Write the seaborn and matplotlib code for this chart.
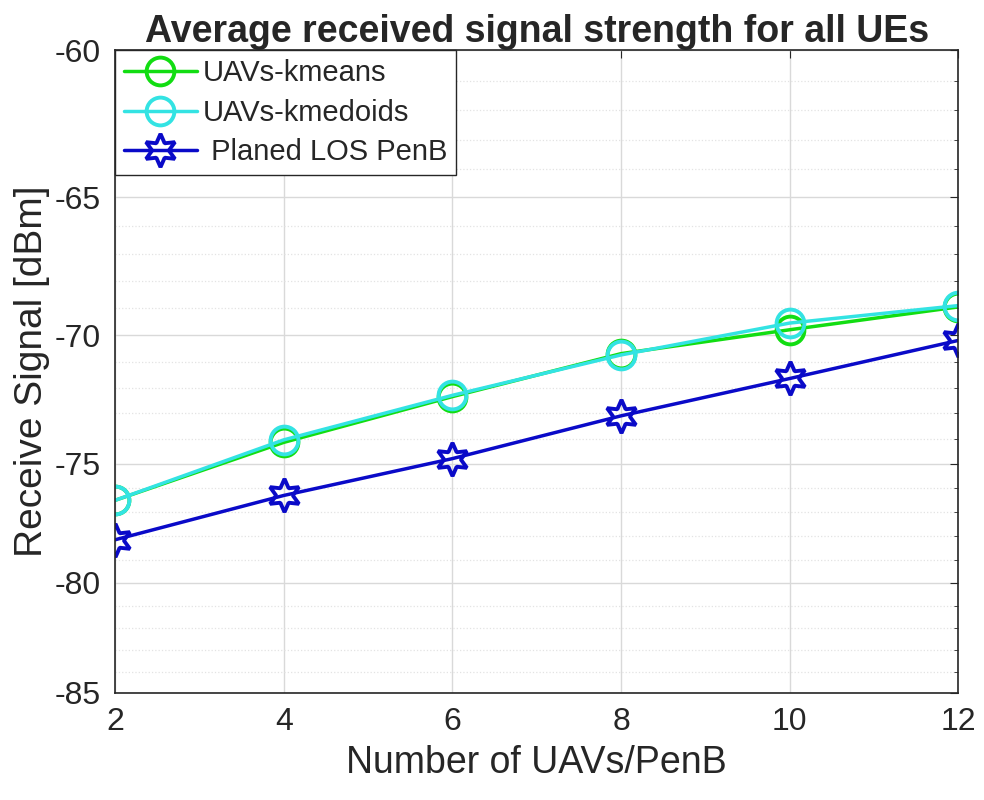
import matplotlib
matplotlib.use("Agg")
import matplotlib.pyplot as plt
import seaborn as sns
import pandas as pd
import numpy as np
from matplotlib.ticker import MultipleLocator

num_uavs = [2, 4, 6, 8, 10, 12]
kmeans = [-76.5, -74.15, -72.35, -70.7, -69.8, -68.95]
kmedoids = [-76.5, -74.05, -72.3, -70.75, -69.55, -68.9]
planed_los = [-78.15, -76.3, -74.8, -73.1, -71.65, -70.2]

labels = ["UAVs-kmeans", "UAVs-kmedoids", " Planed LOS PenB"]
colors = ["#12dd12", "#33e3e3", "#0a0ac8"]

sns.set_style("white")
plt.rcParams['font.family'] = ['Liberation Sans', 'DejaVu Sans']
plt.rcParams['axes.unicode_minus'] = False

fig = plt.figure(figsize=(9.84, 8), dpi=100)
ax = fig.add_axes([0.117, 0.134, 0.857, 0.803])

# the reference y axis is slightly compressed towards the bottom
_A, _B = 30.35, -0.185


def _fwd(y):
    v = -60.0 - np.asarray(y, dtype=float)
    return -(_A * v + _B * v * v)


def _inv(w):
    w = np.asarray(w, dtype=float)
    disc = np.clip(_A * _A - 4 * _B * w, 1e-9, None)
    v = (-_A + np.sqrt(disc)) / (2 * _B)
    return -60.0 - v


ax.set_yscale("function", functions=(_fwd, _inv))

series = [kmeans, kmedoids, planed_los]
markers = ["o", "o", (6, 1, 0)]
for vals, lab, col, mk in zip(series, labels, colors, markers):
    df = pd.DataFrame({"x": num_uavs, "y": vals})
    sns.lineplot(data=df, x="x", y="y", ax=ax, color=col, linewidth=2.5,
                 marker=mk, markersize=20 if mk == "o" else 24,
                 markerfacecolor="none", markeredgecolor=col,
                 markeredgewidth=2.8, label=lab)

ax.set_xlim(2, 12)
ax.set_ylim(-85, -60)
ax.set_xticks(num_uavs)
ax.yaxis.set_major_locator(MultipleLocator(5))
ax.yaxis.set_minor_locator(MultipleLocator(1))
ax.yaxis.set_major_formatter(matplotlib.ticker.FormatStrFormatter("%d"))
ax.yaxis.set_minor_formatter(matplotlib.ticker.NullFormatter())
ax.grid(True, which="major", color="#d9d9d9", linewidth=1.0, linestyle="-")
ax.grid(True, which="minor", axis="y", color="#e3e3e3", linewidth=0.9, linestyle=":")
ax.set_axisbelow(True)
ax.tick_params(axis="both", which="both", direction="in", top=True, right=True,
               labelsize=23, colors="#262626", pad=10)
ax.tick_params(which="major", length=6)
ax.tick_params(which="minor", length=3)
for sp in ax.spines.values():
    sp.set_color("#262626")
    sp.set_linewidth(1.2)

ax.set_xlabel("Number of UAVs/PenB", fontsize=27, color="#262626", labelpad=6)
ax.set_ylabel("Receive Signal [dBm]", fontsize=28, color="#262626", labelpad=4)
ax.set_title("Average received signal strength for all UEs", fontsize=27,
             fontweight="bold", pad=6)

leg = ax.legend(loc="upper left", borderaxespad=0, fontsize=21, frameon=True,
                fancybox=False, handlelength=2.5, handletextpad=0.2,
                labelspacing=0.4, borderpad=0.3)
leg.get_frame().set_edgecolor("#262626")
leg.get_frame().set_linewidth(1.0)
leg.get_frame().set_alpha(1)

fig.savefig("out.png", dpi=100)
